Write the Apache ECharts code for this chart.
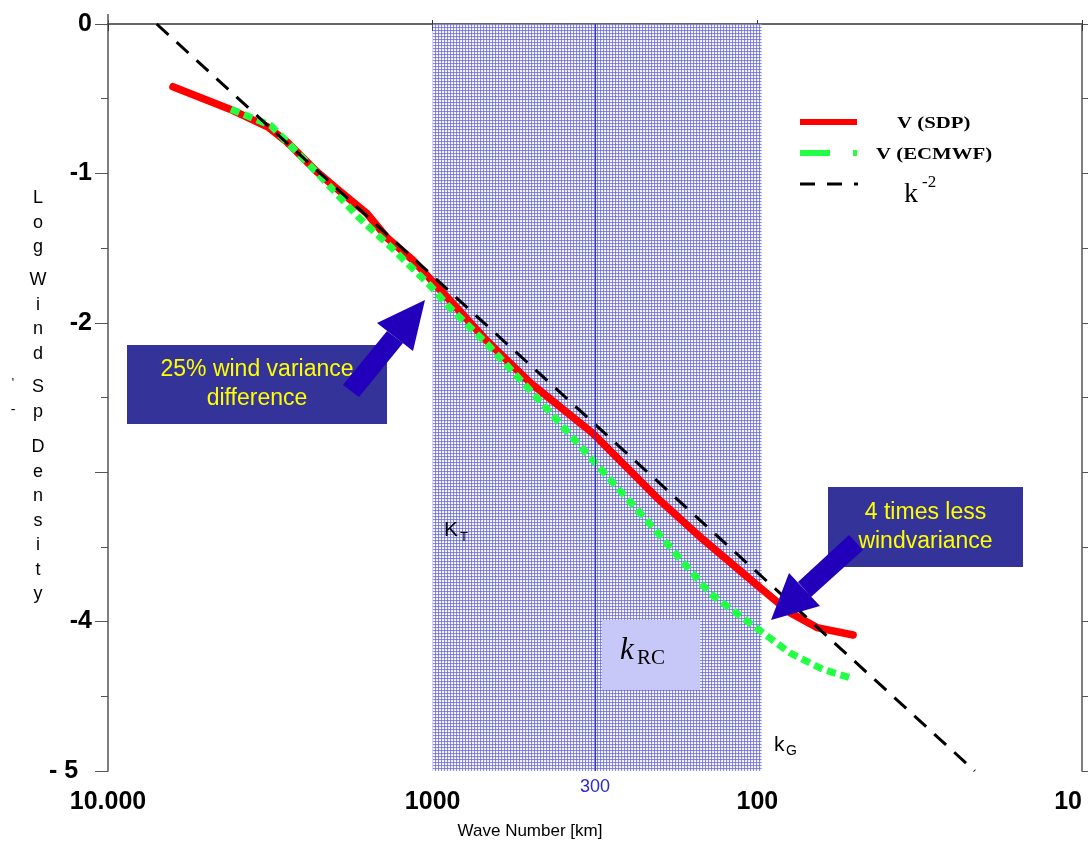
<!DOCTYPE html>
<html>
<head>
<meta charset="utf-8">
<script src="https://cdn.jsdelivr.net/npm/echarts@6/dist/echarts.min.js"></script>
<style>
	html, body { margin: 0; padding: 0; background: #fff; }
	#chart { width: 1088px; height: 842px; }
</style>
</head>
<body>
<div id="chart"></div>
<script>
// wave length [km] and log spectral density
var sdpKm   = [6310, 4210, 3213, 2810, 2271, 1928, 1592, 1383, 1151, 885, 681, 501, 321, 199.5, 147, 96.1, 79.3, 65.5, 50.7];
var sdpVal  = [-0.42, -0.57, -0.69, -0.79, -0.99, -1.12, -1.27, -1.43, -1.58, -1.85, -2.12, -2.40, -2.74, -3.19, -3.45, -3.79, -3.94, -4.04, -4.09];
var ecmwfKm  = [4180, 3150, 2260, 1680, 1350, 1019, 903, 681, 478, 321, 209.5, 140, 98.2, 79.3, 62.8, 51.1];
var ecmwfVal = [-0.57, -0.68, -1.00, -1.30, -1.49, -1.75, -1.88, -2.14, -2.50, -2.92, -3.37, -3.81, -4.06, -4.21, -4.32, -4.38];
var refKm  = [7080, 21.4];
var refVal = [0, -5];

var xTickLabels = { 10000: '10.000', 1000: '1000', 100: '100', 10: '10' };
var yTickLabels = { '0': '0', '-1': '-1', '-2': '-2', '-3': '', '-4': '-4', '-5': '- 5  ' };
var bandKm = [1000, 97];
var markKm = 316;      // where the "300" line sits in the picture
var markLabel = '300';

function pairs(xs, ys) {
	return xs.map(function (x, i) { return [x, ys[i]]; });
}

// small dotted tile for the shaded band
function bandPattern() {
	var c = document.createElement('canvas');
	c.width = 3; c.height = 3;
	var ctx = c.getContext('2d');
	ctx.fillStyle = '#eeeefc'; ctx.fillRect(0, 0, 3, 3);
	ctx.fillStyle = '#8c8ce4'; ctx.fillRect(0, 0, 3, 1); ctx.fillRect(0, 0, 1, 3);
	ctx.fillStyle = '#6c6cd8'; ctx.fillRect(0, 0, 1, 1);
	ctx.fillStyle = '#ffffff'; ctx.fillRect(2, 2, 1, 1);
	return { image: c, repeat: 'repeat' };
}

var dom = document.getElementById('chart');
var myChart = echarts.init(dom, null, { renderer: 'canvas' });

var boxBlue = '#333399';
var arrowBlue = '#2200bb';
var yellow = '#ffff00';
var sans = "'Liberation Sans', Arial, sans-serif";
var serif = "'Liberation Serif', 'Times New Roman', serif";

function noteBox(x, y, w, h, text) {
	return {
		type: 'group', z: 100,
		children: [
			{ type: 'rect', shape: { x: x, y: y, width: w, height: h }, style: { fill: boxBlue } },
			{ type: 'text', x: x + w / 2, y: y + h / 2, style: {
				text: text, fill: yellow, font: '23px ' + sans, align: 'center', verticalAlign: 'middle', lineHeight: 29
			} }
		]
	};
}

function letters(x, y, word) {
	return { type: 'text', x: x, y: y, z: 100, style: {
		text: word.split('').join('\n'), font: '18px ' + sans, fill: '#000', align: 'center', lineHeight: 24.5
	} };
}

var graphics = [
	// arrows
	{ type: 'polygon', z: 90, shape: { points: [[387, 331], [403, 343], [359, 397], [343, 385]] }, style: { fill: arrowBlue } },
	{ type: 'polygon', z: 90, shape: { points: [[425, 300], [377, 323], [413, 351]] }, style: { fill: arrowBlue } },
	{ type: 'polygon', z: 90, shape: { points: [[798, 582], [811, 597], [863, 550], [849, 535]] }, style: { fill: arrowBlue } },
	{ type: 'polygon', z: 90, shape: { points: [[771, 620], [789, 573], [820, 606]] }, style: { fill: arrowBlue } },
	// boxes
	noteBox(495, 203, 190, 80, 'Half of wind\nvariance'),
	noteBox(127, 345, 260, 79, '25% wind variance\ndifference'),
	noteBox(828, 487, 195, 80, '4 times less\nwindvariance'),
	// k_RC
	{ type: 'rect', z: 95, shape: { x: 602, y: 620, width: 98, height: 70 }, style: { fill: '#c8c8f8' } },
	{ type: 'text', z: 100, x: 620, y: 651, style: { text: 'k', font: 'italic 31px ' + serif, fill: '#000', verticalAlign: 'middle' } },
	{ type: 'text', z: 100, x: 637, y: 658, style: { text: 'RC', font: '21px ' + serif, fill: '#000', verticalAlign: 'middle' } },
	// K_T and k_G
	{ type: 'text', z: 100, x: 444, y: 530, style: { text: 'K', font: '21px ' + sans, fill: '#000', verticalAlign: 'middle' } },
	{ type: 'text', z: 100, x: 460, y: 537, style: { text: 'T', font: '13px ' + sans, fill: '#000', verticalAlign: 'middle' } },
	{ type: 'text', z: 100, x: 774, y: 745, style: { text: 'k', font: '21px ' + sans, fill: '#000', verticalAlign: 'middle' } },
	{ type: 'text', z: 100, x: 786, y: 751, style: { text: 'G', font: '14px ' + sans, fill: '#000', verticalAlign: 'middle' } },
	// legend
	{ type: 'line', z: 100, shape: { x1: 800, y1: 122, x2: 857, y2: 122 }, style: { stroke: '#ff0000', lineWidth: 6 } },
	{ type: 'line', z: 100, shape: { x1: 800, y1: 153, x2: 857, y2: 153 }, style: { stroke: '#22ff44', lineWidth: 6, lineDash: [30, 23] } },
	{ type: 'line', z: 100, shape: { x1: 800, y1: 184, x2: 858, y2: 184 }, style: { stroke: '#000', lineWidth: 3, lineDash: [15, 12] } },
	{ type: 'text', z: 100, x: 897, y: 124, scaleX: 1.3, style: { text: 'V (SDP)', font: 'bold 16px ' + serif, fill: '#000', verticalAlign: 'middle' } },
	{ type: 'text', z: 100, x: 876, y: 155, scaleX: 1.3, style: { text: 'V (ECMWF)', font: 'bold 16px ' + serif, fill: '#000', verticalAlign: 'middle' } },
	{ type: 'text', z: 100, x: 904, y: 195, style: { text: 'k', font: '28px ' + serif, fill: '#000', verticalAlign: 'middle' } },
	{ type: 'text', z: 100, x: 922, y: 183, style: { text: '-2', font: '17px ' + serif, fill: '#000', verticalAlign: 'middle' } },
	// y axis name, one letter per line
	letters(38, 186, 'Log'),
	letters(38, 268, 'Wind'),
	letters(38, 375, 'Sp'),
	letters(38, 435, 'Density'),
	{ type: 'text', z: 100, x: 13, y: 378, style: { text: "'", font: '12px ' + sans, fill: '#000', align: 'center' } },
	{ type: 'text', z: 100, x: 13, y: 403, style: { text: '-', font: '14px ' + sans, fill: '#000', align: 'center' } },
	// left axis sticks out a little above the frame
	{ type: 'line', z: 100, shape: { x1: 108, y1: 14, x2: 108, y2: 24 }, style: { stroke: '#555', lineWidth: 1.5 } },
	// x axis name
	{ type: 'text', z: 100, x: 530, y: 831, style: { text: 'Wave Number [km]', font: '17px ' + sans, fill: '#000', align: 'center', verticalAlign: 'middle' } }
];

var option = {
	animation: false,
	backgroundColor: '#fff',
	grid: { left: 108, right: 6, top: 24, bottom: 71, containLabel: false, outerBoundsMode: 'none' },
	xAxis: [{
		type: 'log', logBase: 10, min: 10, max: 10000, inverse: true,
		axisLine: { show: true, lineStyle: { color: '#666', width: 2 } },
		axisTick: { show: true, length: 7, lineStyle: { color: '#333' } },
		axisLabel: {
			margin: 19, fontSize: 25, fontWeight: 'bold', fontFamily: sans, color: '#000',
			alignMinLabel: 'right',
			formatter: function (v) { return xTickLabels[Math.round(v)] || ''; }
		},
		splitLine: { show: false }
	}, {
		type: 'log', logBase: 10, min: 10, max: 10000, inverse: true, position: 'top',
		axisLine: { show: true, lineStyle: { color: '#666', width: 2 } },
		axisTick: { show: true, length: 4, lineStyle: { color: '#333' } },
		axisLabel: { show: false },
		splitLine: { show: false }
	}],
	yAxis: [{
		type: 'value', min: -5, max: 0, interval: 1,
		axisLine: { show: true, lineStyle: { color: '#555', width: 1.5 } },
		axisTick: { show: true, length: 13, lineStyle: { color: '#555' } },
		minorTick: { show: true, splitNumber: 2, length: 7, lineStyle: { color: '#555' } },
		axisLabel: {
			margin: 16, fontSize: 25, fontWeight: 'bold', fontFamily: sans, color: '#000',
			formatter: function (v) { var k = String(Math.round(v)); return yTickLabels[k] !== undefined ? yTickLabels[k] : ''; }
		},
		splitLine: { show: false }
	}, {
		type: 'value', min: -5, max: 0, interval: 0.5, position: 'right',
		axisLine: { show: true, lineStyle: { color: '#555', width: 1.5 } },
		axisTick: { show: true, length: 8, lineStyle: { color: '#555' } },
		axisLabel: { show: false },
		splitLine: { show: false }
	}],
	series: [{
		name: 'V (SDP)',
		type: 'line',
		silent: true,
		symbol: 'none',
		data: pairs(sdpKm, sdpVal),
		lineStyle: { color: '#ff0000', width: 7.5, cap: 'round' },
		markArea: {
			silent: true,
			itemStyle: { color: bandPattern() },
			data: [[{ xAxis: bandKm[0] }, { xAxis: bandKm[1] }]]
		},
		markLine: {
			silent: true,
			symbol: 'none',
			lineStyle: { color: '#3333cc', width: 1, type: 'solid' },
			label: { show: true, position: 'start', distance: 7, formatter: markLabel, color: '#2a2ad0', fontSize: 18, fontFamily: sans },
			data: [{ xAxis: markKm }]
		}
	}, {
		name: 'V (ECMWF)',
		type: 'line',
		silent: true,
		symbol: 'none',
		data: pairs(ecmwfKm, ecmwfVal),
		lineStyle: { color: '#22ff44', width: 7, type: [9, 5] }
	}, {
		name: 'k -2',
		type: 'line',
		silent: true,
		symbol: 'none',
		data: pairs(refKm, refVal),
		lineStyle: { color: '#000', width: 3, type: [16, 11] }
	}],
	graphic: graphics
};

myChart.setOption(option);
</script>
</body>
</html>
